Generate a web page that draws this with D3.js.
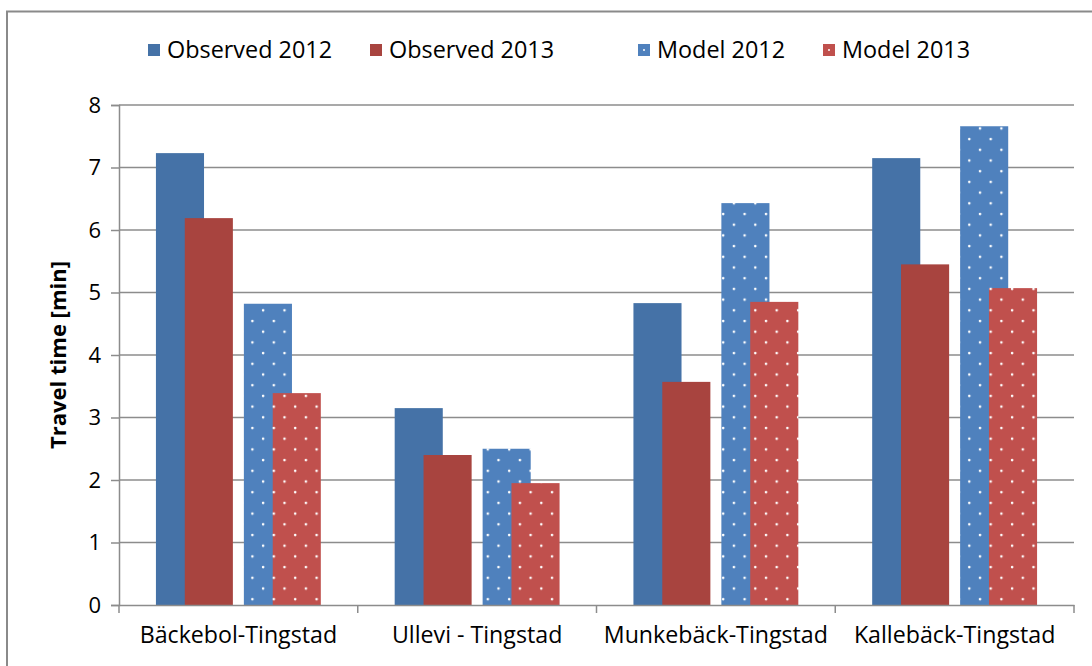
<!DOCTYPE html>
<html>
<head>
<meta charset="utf-8">
<script src="https://cdn.jsdelivr.net/npm/d3@7"></script>
<style>
  body { margin: 0; background: #fff; }
  svg { display: block; font-family: "Open Sans", sans-serif; }
</style>
</head>
<body>
<div id="chart"></div>
<script>
// data
const categories = ['Bäckebol-Tingstad', 'Ullevi - Tingstad', 'Munkebäck-Tingstad', 'Kallebäck-Tingstad'];
const observed2012 = [7.23, 3.15, 4.83, 7.15];
const observed2013 = [6.19, 2.40, 3.57, 5.45];
const model2012 = [4.82, 2.50, 6.43, 7.66];
const model2013 = [3.39, 1.95, 4.85, 5.07];
const yTicks = [0, 1, 2, 3, 4, 5, 6, 7, 8];

const seriesNames = ['Observed 2012', 'Observed 2013', 'Model 2012', 'Model 2013'];
const seriesValues = [observed2012, observed2013, model2012, model2013];
const seriesGroup = ['Observed', 'Observed', 'Model', 'Model'];
const seriesYear = [0, 1, 0, 1];
const seriesFill = ['#4572a7', '#a8443f', 'url(#dotsBlue)', 'url(#dotsRed)'];
const seriesBase = ['#4572a7', '#a8443f', '#4f81bd', '#c0504d'];

const W = 1092, H = 666;
const margin = { top: 105, left: 119, right: 18, bottom: 61 };
const width = W - margin.left - margin.right;
const height = H - margin.top - margin.bottom;
const font = '"Open Sans", sans-serif';

const svg = d3.select('#chart').append('svg')
    .attr('width', W)
    .attr('height', H);

// dotted fills for the model series
const defs = svg.append('defs');
function dotPattern(id, color) {
    const p = defs.append('pattern')
        .attr('id', id)
        .attr('patternUnits', 'userSpaceOnUse')
        .attr('width', 21.4)
        .attr('height', 21.4);
    p.append('rect').attr('width', 21.4).attr('height', 21.4).attr('fill', color);
    p.append('circle').attr('cx', 5).attr('cy', 2).attr('r', 1.3).attr('fill', '#fff');
    p.append('circle').attr('cx', 15.7).attr('cy', 12.7).attr('r', 1.3).attr('fill', '#fff');
}
dotPattern('dotsBlue', '#4f81bd');
dotPattern('dotsRed', '#c0504d');

// outer frame
svg.append('path')
    .attr('d', `M7,${H + 5} V11.5 H${W + 5}`)
    .attr('fill', 'none')
    .attr('stroke', '#8a8a8a')
    .attr('stroke-width', 2);

const chart = svg.append('g')
    .attr('transform', `translate(${margin.left},${margin.top})`);

const xScale = d3.scaleBand().domain(categories).range([0, width]);
const groupScale = d3.scaleBand()
    .domain(['Observed', 'Model'])
    .range([0, xScale.bandwidth()])
    .paddingInner(0.125)
    .paddingOuter(0.42);
const barW = groupScale.bandwidth() * 0.625;
const yScale = d3.scaleLinear().domain([0, 8]).range([height, 0]);

// gridlines
chart.append('g')
    .selectAll('line')
    .data(yTicks.filter(d => d > 0))
    .join('line')
    .attr('x1', 0)
    .attr('x2', width)
    .attr('y1', d => yScale(d))
    .attr('y2', d => yScale(d))
    .attr('stroke', '#8c8c8c')
    .attr('stroke-width', 1.5);

// bars
seriesValues.forEach((vals, si) => {
    chart.append('g')
        .selectAll('rect')
        .data(vals.map((v, i) => ({ cat: categories[i], value: v })))
        .join('rect')
        .attr('x', d => xScale(d.cat) + groupScale(seriesGroup[si]) + seriesYear[si] * (groupScale.bandwidth() - barW))
        .attr('y', d => yScale(d.value))
        .attr('width', barW)
        .attr('height', d => height - yScale(d.value))
        .attr('fill', seriesFill[si]);
});

// y axis
const yAxis = chart.append('g')
    .call(d3.axisLeft(yScale).tickValues(yTicks).tickSize(8).tickPadding(10));
yAxis.select('.domain').attr('stroke', '#8c8c8c').attr('stroke-width', 1.5);
yAxis.selectAll('.tick line').attr('stroke', '#8c8c8c').attr('stroke-width', 1.5);
yAxis.selectAll('.tick text')
    .attr('font-size', 22)
    .attr('font-family', font)
    .attr('fill', '#000');

// x axis
const xAxis = chart.append('g')
    .attr('transform', `translate(0,${height})`)
    .call(d3.axisBottom(xScale).tickSize(0).tickPadding(22));
xAxis.select('.domain').attr('stroke', '#8c8c8c').attr('stroke-width', 1.5);
xAxis.selectAll('.tick text')
    .attr('font-size', 23.2)
    .attr('font-family', font)
    .attr('fill', '#000');
chart.append('g')
    .selectAll('line')
    .data(d3.range(categories.length + 1))
    .join('line')
    .attr('x1', i => i * xScale.step())
    .attr('x2', i => i * xScale.step())
    .attr('y1', height)
    .attr('y2', height + 8)
    .attr('stroke', '#8c8c8c')
    .attr('stroke-width', 1.5);

// y title
svg.append('text')
    .attr('transform', `translate(66,${margin.top + height / 2}) rotate(-90)`)
    .attr('text-anchor', 'middle')
    .attr('font-size', 22)
    .attr('font-weight', 'bold')
    .text('Travel time [min]');

// legend
const legendX = [148, 370, 638, 823];
const legend = svg.append('g');
seriesNames.forEach((name, i) => {
    legend.append('rect')
        .attr('x', legendX[i])
        .attr('y', 44)
        .attr('width', 12)
        .attr('height', 12)
        .attr('fill', seriesBase[i]);
    if (i >= 2) {
        legend.append('circle')
            .attr('cx', legendX[i] + 6)
            .attr('cy', 50)
            .attr('r', 1)
            .attr('fill', '#fff');
    }
    legend.append('text')
        .attr('x', legendX[i] + 19)
        .attr('y', 50)
        .attr('dy', '0.35em')
        .attr('font-size', 23.4)
        .text(name);
});
</script>
</body>
</html>
